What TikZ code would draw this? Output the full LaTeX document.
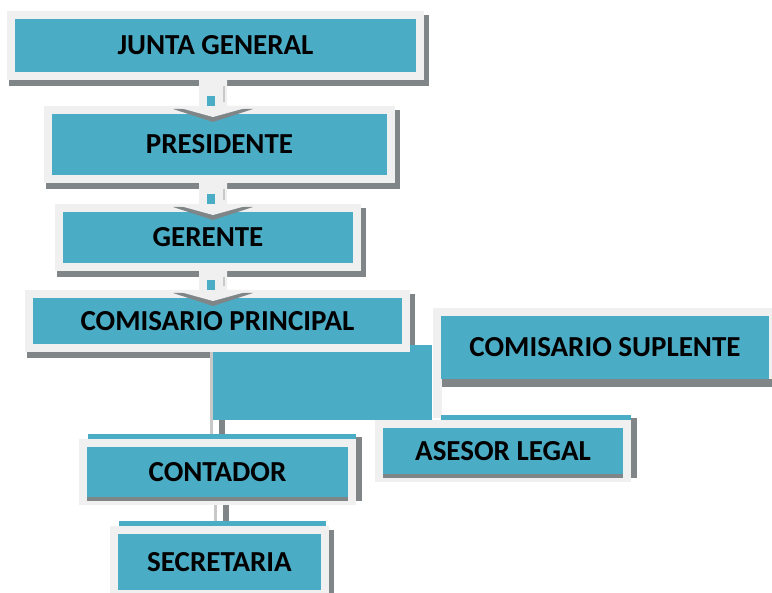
\documentclass[tikz,border=0pt]{standalone}
\usepackage{fontspec}
\setmainfont{Carlito}
\usepackage{xcolor}
\usetikzlibrary{calc,backgrounds}

\definecolor{azul}{RGB}{75,172,198}
\definecolor{marco}{RGB}{240,240,240}
\definecolor{sombra}{RGB}{128,134,136}
\definecolor{claro}{RGB}{200,200,200}

\begin{document}
\begin{tikzpicture}[
            x = 1pt, y = -1pt,
            caja/.style = {fill = azul, draw = marco, line width = 8pt, inner sep = 0pt,
                           font = \fontsize{29}{34}\selectfont\bfseries},
            lineaclara/.style = {draw = claro, line width = 3pt},
            lineaoscura/.style = {draw = sombra, line width = 6pt}
        ]
        \useasboundingbox (0,0) rectangle (772,593);
        \coordinate (eje) at (213,0);

        \node[caja, minimum width = 409, minimum height = 61] (jg) at (215.5,45.5) {JUNTA GENERAL};
        \node[caja, minimum width = 343, minimum height = 69] (pres) at (219.5,144.5) {PRESIDENTE};
        \node[caja, minimum width = 298, minimum height = 59] (ger) at (208,237.5) {GERENTE};
        \node[caja, minimum width = 377, minimum height = 54] (cp) at (217.5,321) {COMISARIO PRINCIPAL};
        \node[caja, minimum width = 336, minimum height = 71] (cs) at (605,347.5) {COMISARIO SUPLENTE};
        \node[caja, minimum width = 248, minimum height = 54] (al) at (503,451) {ASESOR LEGAL};
        \node[caja, minimum width = 269, minimum height = 58] (cont) at (217.5,472) {CONTADOR};
        \node[caja, minimum width = 211, minimum height = 64] (sec) at (219.5,562) {SECRETARIA};

        % sombras, bloque y lineas detras
        \begin{scope}[on background layer]
            \foreach \n in {jg,pres,ger,cp,sec}
                \fill[sombra] ($(\n.north west)+(2,4)$) rectangle ($(\n.south east)+(5,6)$);
            \foreach \n in {al,cont}
                \fill[sombra] ($(\n.north east)+(0,-2)$) rectangle ($(\n.south east)+(6,-4)$);
            \node[fill = azul, minimum width = 219, minimum height = 75, inner sep = 0pt] (bloque) at (322.5,382.5) {};
            \fill[marco] (cs.south west) rectangle ($(cs.south west)+(9,31)$);
            \fill[azul] ($(al.north west)+(66,-5)$) rectangle (al.north east);
            \path[lineaclara] ([xshift=-6pt]cp.south) -- ([xshift=-6pt]cp.south |- cont.north);
            \path[lineaoscura] ([xshift=4pt]cont.north |- bloque.south) -- ([xshift=4pt]cont.north);
            \path[lineaclara] ([xshift=-2pt]cont.south) -- ([xshift=-2pt]cont.south |- sec.north);
            \path[lineaoscura] ([xshift=8pt]cont.south) -- ([xshift=8pt]cont.south |- sec.north);
        \end{scope}

        % bordes sueltos
        \fill[sombra] ($(cs.south west)+(9,-8)$) rectangle (cs.south east);
        \fill[sombra] ($(al.south west)+(8,-8)$) rectangle ($(al.south east)+(-8,-4)$);
        \fill[sombra] ($(cont.south west)+(8,-8)$) rectangle ($(cont.south east)+(-8,-4)$);
        \fill[azul] ($(cont.north west)+(9,-5)$) rectangle (cont.north east);
        \fill[azul] ($(sec.north west)+(9,-5)$) rectangle ($(sec.north east)+(-3,0)$);

        % flechas entre cajas
        \foreach \a/\b in {jg/pres,pres/ger,ger/cp}{
            \coordinate (s) at (\a.south -| eje);
            \coordinate (e) at (\b.north -| eje);
            \fill[sombra] ($(e)+(-40,3)$) -- ($(e)+(40,3)$) -- ($(e)+(0,16)$) -- cycle;
            \fill[marco] ($(s)+(-14,0)$) -- ($(e)+(-14,0)$) -- ($(e)+(-40,0)$) -- ($(e)+(0,11)$)
                -- ($(e)+(40,0)$) -- ($(e)+(14,0)$) -- ($(s)+(14,0)$) -- cycle;
            \fill[azul] ($(e)+(-6,-10)$) rectangle ($(e)+(2,0)$);
            \path[draw = claro, line width = 1.5pt] ($(s)+(11,6)$) -- ($(e)+(11,-4)$);
        }
    \end{tikzpicture}
\end{document}
